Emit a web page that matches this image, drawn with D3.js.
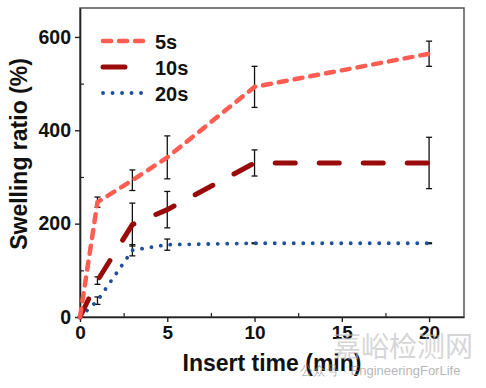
<!DOCTYPE html>
<html>
<head>
<meta charset="utf-8">
<script src="https://cdn.jsdelivr.net/npm/d3@7"></script>
<style>
  body { margin: 0; background: #fff; }
  svg { display: block; font-family: "Liberation Sans", Arial, sans-serif; }
</style>
</head>
<body>
<div id="chart"></div>
<script>
// Chart data
const times = [0, 1, 3, 5, 10, 20];
const series = ["5s", "10s", "20s"];
const swell5 = [0, 246, 293, 342, 493, 564];
const err5 = [0, 11, 22, 46, 44, 27];
const swell10 = [0, 78, 198, 230, 330, 330];
const err10 = [0, 8, 46, 39, 28, 55];
const swell20 = [0, 35, 143, 155, 158, 158];
const err20 = [0, 8, 12, 12, 1, 1];
const xTicks = [0, 5, 10, 15, 20];
const yTicks = [0, 200, 400, 600];

const width = 486;
const height = 388;
const margin = {left: 80, right: 22, top: 8, bottom: 71};

const svg = d3.select("#chart")
  .append("svg")
  .attr("width", width)
  .attr("height", height);

// Scales
const x = d3.scaleLinear()
  .domain([0, 22])
  .range([margin.left, width - margin.right]);

const y = d3.scaleLinear()
  .domain([0, 662])
  .range([height - margin.bottom, margin.top]);

// Frame (top and right are grey)
svg.append("rect")
  .attr("x", margin.left)
  .attr("y", margin.top)
  .attr("width", width - margin.left - margin.right)
  .attr("height", height - margin.top - margin.bottom)
  .attr("fill", "none")
  .attr("stroke", "#555")
  .attr("stroke-width", 1.5);

// Minor ticks
svg.append("g")
  .attr("transform", `translate(0,${height - margin.bottom})`)
  .call(d3.axisBottom(x).tickValues([2.5, 7.5, 12.5, 17.5]).tickSize(-4).tickFormat(""))
  .call(g => g.select(".domain").remove())
  .selectAll("line").attr("stroke", "#222").attr("stroke-width", 1.2);

svg.append("g")
  .attr("transform", `translate(${margin.left},0)`)
  .call(d3.axisLeft(y).tickValues([100, 300, 500]).tickSize(-4).tickFormat(""))
  .call(g => g.select(".domain").remove())
  .selectAll("line").attr("stroke", "#222").attr("stroke-width", 1.2);

// X axis
const xAxis = svg.append("g")
  .attr("transform", `translate(0,${height - margin.bottom})`)
  .call(d3.axisBottom(x).tickValues(xTicks).tickSize(5).tickPadding(4).tickSizeOuter(0));
xAxis.select(".domain").attr("stroke", "#222").attr("stroke-width", 1.6);
xAxis.selectAll("line").attr("stroke", "#222").attr("stroke-width", 1.4);
xAxis.selectAll("text")
  .attr("font-size", "19px")
  .attr("font-weight", "bold")
  .attr("fill", "#111");

// Y axis
const yAxis = svg.append("g")
  .attr("transform", `translate(${margin.left},0)`)
  .call(d3.axisLeft(y).tickValues(yTicks).tickSize(5).tickPadding(4).tickSizeOuter(0));
yAxis.select(".domain").attr("stroke", "#222").attr("stroke-width", 1.6);
yAxis.selectAll("line").attr("stroke", "#222").attr("stroke-width", 1.4);
yAxis.selectAll("text")
  .attr("font-size", "19.5px")
  .attr("font-weight", "bold")
  .attr("fill", "#111");

// Axis titles
svg.append("text")
  .attr("x", 272)
  .attr("y", 371)
  .attr("text-anchor", "middle")
  .attr("font-size", "23px")
  .attr("font-weight", "bold")
  .attr("fill", "#111")
  .text("Insert time (min)");

svg.append("text")
  .attr("transform", "translate(27,154) rotate(-90)")
  .attr("text-anchor", "middle")
  .attr("font-size", "23px")
  .attr("font-weight", "bold")
  .attr("fill", "#111")
  .text("Swelling ratio (%)");

// Line styles per series
const styles = [
  {name: series[0], vals: swell5, errs: err5, color: "#ff5c52", width: 4.5, dash: "8,8"},
  {name: series[1], vals: swell10, errs: err10, color: "#990a0a", width: 5, dash: "20,24"},
  {name: series[2], vals: swell20, errs: err20, color: "#1d4f9c", width: 3.8, dash: "0.1,9.4"}
];

const line = d3.line()
  .x((d, i) => x(times[i]))
  .y(d => y(d));

// Error bars
styles.forEach(s => {
  const eb = svg.append("g");
  s.vals.forEach((v, i) => {
    if (i === 0) return;
    const cx = x(times[i]);
    eb.append("line")
      .attr("x1", cx).attr("x2", cx)
      .attr("y1", y(v - s.errs[i])).attr("y2", y(v + s.errs[i]))
      .attr("stroke", "#111").attr("stroke-width", 1.3);
    [v - s.errs[i], v + s.errs[i]].forEach(e => {
      eb.append("line")
        .attr("x1", cx - 3).attr("x2", cx + 3)
        .attr("y1", y(e)).attr("y2", y(e))
        .attr("stroke", "#111").attr("stroke-width", 1.3);
    });
  });
});

// Lines
styles.slice().reverse().forEach(s => {
  svg.append("path")
    .datum(s.vals)
    .attr("d", line)
    .attr("fill", "none")
    .attr("stroke", s.color)
    .attr("stroke-width", s.width)
    .attr("stroke-linecap", "round")
    .attr("stroke-dasharray", s.dash);
});

// Legend
const legend = svg.append("g");
styles.forEach((s, i) => {
  const ly = 41 + i * 26;
  legend.append("line")
    .attr("x1", 103).attr("x2", 146)
    .attr("y1", ly).attr("y2", ly)
    .attr("stroke", s.color)
    .attr("stroke-width", s.width)
    .attr("stroke-linecap", "round")
    .attr("stroke-dasharray", i === 1 ? "22,60" : s.dash);
  legend.append("text")
    .attr("x", 155)
    .attr("y", ly + 7.5)
    .attr("font-size", "20px")
    .attr("font-weight", "bold")
    .attr("fill", "#111")
    .text(s.name);
});

// Watermark
svg.append("text")
  .attr("x", 333)
  .attr("y", 357)
  .attr("font-family", "Noto Sans CJK SC")
  .attr("font-size", "28px")
  .attr("fill", "#bbb")
  .attr("opacity", 0.6)
  .text("嘉峪检测网");

svg.append("text")
  .attr("x", 300)
  .attr("y", 375)
  .attr("font-size", "13px")
  .attr("fill", "#999")
  .attr("opacity", 0.7)
  .text("公众号 · EngineeringForLife");
</script>
</body>
</html>
